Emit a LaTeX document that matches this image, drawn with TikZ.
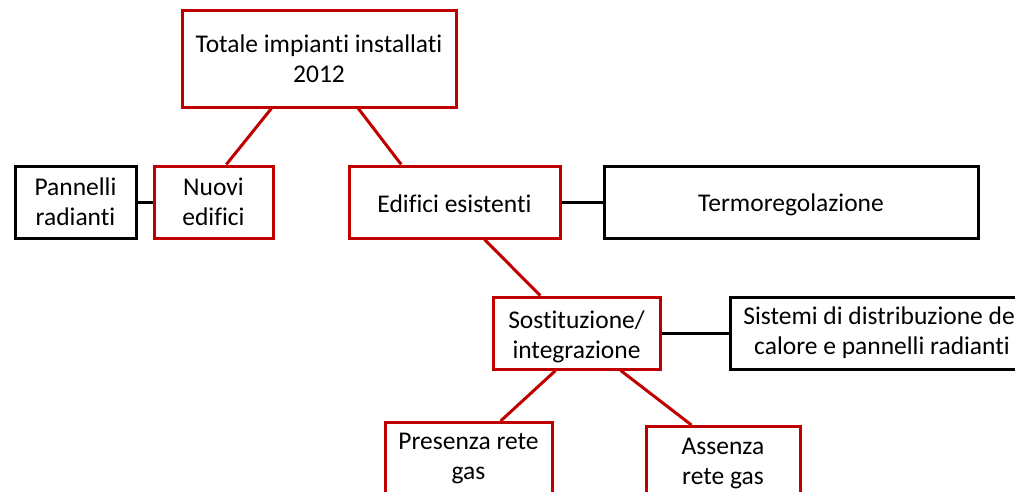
\documentclass[tikz,border=0pt]{standalone}
\usepackage{fontspec}
\setmainfont{Carlito}[Ligatures=NoCommon]
\usetikzlibrary{calc}
\definecolor{dred}{RGB}{192,0,0}
\begin{document}
\begin{tikzpicture}[x=1pt,y=-1pt,
  txt/.style={align=center,inner sep=0pt,font=\fontsize{25.5}{30}\selectfont},
  redbox/.style={txt,draw=dred,line width=3pt,fill=white},
  blackbox/.style={txt,draw=black,line width=3pt,fill=white},
  redline/.style={draw=dred,line width=3pt},
  blackline/.style={draw=black,line width=3pt}]
\useasboundingbox (0,0) rectangle (1015,491);
\clip (0,0) rectangle (1015,491);
% boxes
\node[redbox,minimum width=274pt,minimum height=97pt] (tot) at (319,58.5) {Totale impianti installati\\2012};
\node[redbox,minimum width=119pt,minimum height=72pt] (nuovi) at (213.5,202) {Nuovi\\edifici};
\node[blackbox,minimum width=121pt,minimum height=72pt] (pann) at (75.5,202) {Pannelli\\radianti};
\node[redbox,minimum width=211pt,minimum height=72pt] (esist) at (454.5,202) {};
\node[txt] (esisttxt) at (454.5,203.5) {Edifici esistenti};
\node[blackbox,minimum width=374pt,minimum height=72pt] (termo) at (791,202) {};
\node[txt] (termotxt) at (791,204.5) {Termoregolazione};
\node[redbox,minimum width=167pt,minimum height=72pt] (sost) at (576.5,333) {};
\node[txt] (sosttxt) at (576.5,337) {Sostituzione/\\integrazione};
\node[blackbox,minimum width=304pt,minimum height=72pt] (sist) at (882,333) {Sistemi di distribuzione del\\calore e pannelli radianti};
\node[redbox,minimum width=167pt,minimum height=100pt,anchor=north] (pres) at (468.5,421) {};
\node[txt,anchor=north] (prestxt) at (468.5,433) {Presenza rete\\gas};
\node[redbox,minimum width=154pt,minimum height=100pt,anchor=north] (ass) at (723,425) {};
\node[txt,anchor=north] (asstxt) at (723,438) {Assenza\\rete gas};
% connectors
\draw[redline] ($(tot.south west)!0.328!(tot.south east)$) -- ($(nuovi.north west)!0.605!(nuovi.north east)$);
\draw[redline] ($(tot.south west)!0.642!(tot.south east)$) -- ($(esist.north west)!0.251!(esist.north east)$);
\draw[blackline] (pann.east) -- (nuovi.west);
\draw[blackline] (esist.east) -- (termo.west);
\draw[redline] ($(esist.south west)!0.64!(esist.south east)$) -- ($(sost.north west)!0.287!(sost.north east)$);
\draw[blackline] (sost.east) -- (sist.west);
\draw[redline] ($(sost.south west)!0.377!(sost.south east)$) -- ($(pres.north west)!0.689!(pres.north east)$);
\draw[redline] ($(sost.south west)!0.76!(sost.south east)$) -- ($(ass.north west)!0.299!(ass.north east)$);
\end{tikzpicture}
\end{document}
